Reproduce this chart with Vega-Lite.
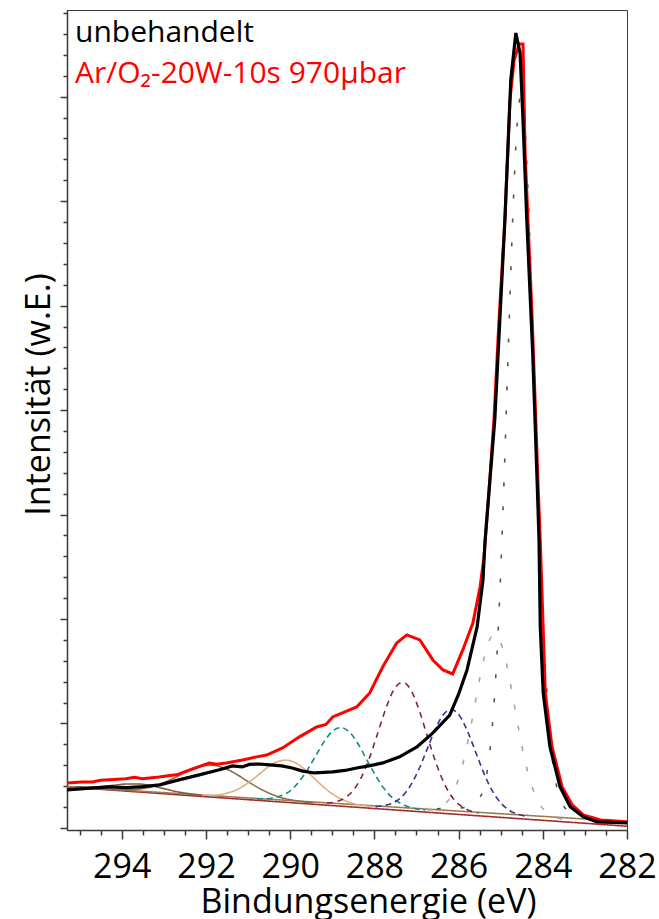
{
"$schema": "https://vega.github.io/schema/vega-lite/v6.json",
"width": 560, "height": 820,
"autosize": {"type": "none"},
"padding": {"left": 67, "top": 10, "right": 32, "bottom": 89},
"background": "white",
"config": {"font": "Open Sans", "view": {"stroke": "#3a3a3a", "strokeWidth": 1}},
"datasets": {
"spectra": [
{"E":295.3,"v":1.82,"s":"u"},{"E":294.9,"v":1.88,"s":"u"},{"E":294.3,"v":1.96,"s":"u"},{"E":293.9,"v":1.93,"s":"u"},{"E":293.5,"v":1.98,"s":"u"},{"E":293.1,"v":2.06,"s":"u"},{"E":292.64,"v":2.30,"s":"u"},{"E":292.16,"v":2.54,"s":"u"},{"E":291.68,"v":2.78,"s":"u"},{"E":291.37,"v":2.97,"s":"u"},{"E":291.14,"v":2.92,"s":"u"},{"E":290.97,"v":3.04,"s":"u"},{"E":290.73,"v":3.06,"s":"u"},{"E":290.49,"v":3.02,"s":"u"},{"E":290.2,"v":2.97,"s":"u"},{"E":289.95,"v":2.87,"s":"u"},{"E":289.7,"v":2.72,"s":"u"},{"E":289.42,"v":2.63,"s":"u"},{"E":289.2,"v":2.66,"s":"u"},{"E":288.99,"v":2.68,"s":"u"},{"E":288.7,"v":2.75,"s":"u"},{"E":288.42,"v":2.87,"s":"u"},{"E":288.1,"v":2.98,"s":"u"},{"E":287.8,"v":3.11,"s":"u"},{"E":287.4,"v":3.40,"s":"u"},{"E":286.99,"v":3.88,"s":"u"},{"E":286.61,"v":4.55,"s":"u"},{"E":286.21,"v":5.4,"s":"u"},{"E":286.0,"v":6.4,"s":"u"},{"E":285.8,"v":7.56,"s":"u"},{"E":285.56,"v":9.62,"s":"u"},{"E":285.42,"v":11.87,"s":"u"},{"E":285.37,"v":13.78,"s":"u"},{"E":285.14,"v":19.53,"s":"u"},{"E":285.02,"v":24.31,"s":"u"},{"E":284.9,"v":29.1,"s":"u"},{"E":284.8,"v":33.89,"s":"u"},{"E":284.76,"v":35.8,"s":"u"},{"E":284.64,"v":38.05,"s":"u"},{"E":284.54,"v":37.09,"s":"u"},{"E":284.47,"v":33.89,"s":"u"},{"E":284.38,"v":29.1,"s":"u"},{"E":284.24,"v":22.73,"s":"u"},{"E":284.13,"v":16.32,"s":"u"},{"E":284.09,"v":13.78,"s":"u"},{"E":284.06,"v":9.62,"s":"u"},{"E":283.99,"v":6.46,"s":"u"},{"E":283.83,"v":3.88,"s":"u"},{"E":283.59,"v":1.96,"s":"u"},{"E":283.35,"v":1.01,"s":"u"},{"E":283.04,"v":0.53,"s":"u"},{"E":282.71,"v":0.29,"s":"u"},{"E":282.0,"v":0.24,"s":"u"},
{"E":295.3,"v":2.15,"s":"a"},{"E":294.95,"v":2.2,"s":"a"},{"E":294.7,"v":2.2,"s":"a"},{"E":294.5,"v":2.28,"s":"a"},{"E":294.3,"v":2.3,"s":"a"},{"E":293.9,"v":2.35,"s":"a"},{"E":293.7,"v":2.42,"s":"a"},{"E":293.51,"v":2.35,"s":"a"},{"E":293.11,"v":2.44,"s":"a"},{"E":292.9,"v":2.5,"s":"a"},{"E":292.7,"v":2.54,"s":"a"},{"E":292.32,"v":2.82,"s":"a"},{"E":291.92,"v":3.11,"s":"a"},{"E":291.75,"v":3.05,"s":"a"},{"E":291.52,"v":3.11,"s":"a"},{"E":291.13,"v":3.25,"s":"a"},{"E":290.8,"v":3.4,"s":"a"},{"E":290.56,"v":3.49,"s":"a"},{"E":290.18,"v":3.83,"s":"a"},{"E":289.78,"v":4.36,"s":"a"},{"E":289.37,"v":4.83,"s":"a"},{"E":289.15,"v":4.95,"s":"a"},{"E":288.99,"v":5.31,"s":"a"},{"E":288.7,"v":5.55,"s":"a"},{"E":288.42,"v":5.79,"s":"a"},{"E":288.11,"v":6.46,"s":"a"},{"E":287.8,"v":7.71,"s":"a"},{"E":287.47,"v":8.85,"s":"a"},{"E":287.23,"v":9.24,"s":"a"},{"E":286.92,"v":9.0,"s":"a"},{"E":286.61,"v":8.04,"s":"a"},{"E":286.37,"v":7.56,"s":"a"},{"E":286.14,"v":7.37,"s":"a"},{"E":285.9,"v":8.52,"s":"a"},{"E":285.66,"v":9.81,"s":"a"},{"E":285.49,"v":11.53,"s":"a"},{"E":285.4,"v":12.9,"s":"a"},{"E":285.3,"v":15.5,"s":"a"},{"E":285.16,"v":19.53,"s":"a"},{"E":285.04,"v":24.31,"s":"a"},{"E":284.9,"v":29.1,"s":"a"},{"E":284.78,"v":34.84,"s":"a"},{"E":284.68,"v":36.76,"s":"a"},{"E":284.56,"v":37.52,"s":"a"},{"E":284.47,"v":37.52,"s":"a"},{"E":284.42,"v":32.31,"s":"a"},{"E":284.25,"v":24.31,"s":"a"},{"E":284.11,"v":16.32,"s":"a"},{"E":284.06,"v":13.78,"s":"a"},{"E":283.94,"v":6.46,"s":"a"},{"E":283.78,"v":3.88,"s":"a"},{"E":283.54,"v":1.96,"s":"a"},{"E":283.3,"v":1.1,"s":"a"},{"E":283.04,"v":0.62,"s":"a"},{"E":282.63,"v":0.38,"s":"a"},{"E":282.0,"v":0.29,"s":"a"}
],
"comps": [
{"E":282.0,"v":0.08,"c":"bgA"},{"E":295.3,"v":1.96,"c":"bgA"},
{"E":282.0,"v":0.30,"c":"bgB"},{"E":295.3,"v":1.98,"c":"bgB"},
{"E":292.1,"v":1.57,"c":"C8"},{"E":292.4,"v":1.64,"c":"C8"},{"E":292.7,"v":1.74,"c":"C8"},{"E":293.0,"v":1.88,"c":"C8"},{"E":293.3,"v":2.02,"c":"C8"},{"E":293.6,"v":2.10,"c":"C8"},{"E":293.9,"v":2.10,"c":"C8"},{"E":294.2,"v":2.04,"c":"C8"},{"E":294.5,"v":1.98,"c":"C8"},{"E":294.8,"v":1.96,"c":"C8"},{"E":295.1,"v":1.97,"c":"C8"},
{"E":289.45,"v":1.20,"c":"C7"},{"E":289.85,"v":1.30,"c":"C7"},{"E":290.05,"v":1.37,"c":"C7"},{"E":290.25,"v":1.47,"c":"C7"},{"E":290.45,"v":1.62,"c":"C7"},{"E":290.65,"v":1.81,"c":"C7"},{"E":290.85,"v":2.03,"c":"C7"},{"E":291.05,"v":2.28,"c":"C7"},{"E":291.25,"v":2.54,"c":"C7"},{"E":291.45,"v":2.76,"c":"C7"},{"E":291.65,"v":2.92,"c":"C7"},{"E":291.85,"v":3.00,"c":"C7"},{"E":292.05,"v":2.97,"c":"C7"},{"E":292.25,"v":2.87,"c":"C7"},{"E":292.45,"v":2.70,"c":"C7"},{"E":292.65,"v":2.49,"c":"C7"},{"E":292.85,"v":2.30,"c":"C7"},{"E":293.05,"v":2.13,"c":"C7"},{"E":293.25,"v":1.99,"c":"C7"},{"E":293.45,"v":1.90,"c":"C7"},{"E":293.65,"v":1.85,"c":"C7"},{"E":293.85,"v":1.83,"c":"C7"},{"E":294.25,"v":1.84,"c":"C7"},
{"E":288.09,"v":1.03,"c":"C6"},{"E":288.29,"v":1.08,"c":"C6"},{"E":288.49,"v":1.16,"c":"C6"},{"E":288.69,"v":1.30,"c":"C6"},{"E":288.89,"v":1.49,"c":"C6"},{"E":289.09,"v":1.76,"c":"C6"},{"E":289.29,"v":2.11,"c":"C6"},{"E":289.49,"v":2.49,"c":"C6"},{"E":289.69,"v":2.86,"c":"C6"},{"E":289.89,"v":3.13,"c":"C6"},{"E":290.09,"v":3.24,"c":"C6"},{"E":290.29,"v":3.18,"c":"C6"},{"E":290.49,"v":2.97,"c":"C6"},{"E":290.69,"v":2.65,"c":"C6"},{"E":290.89,"v":2.32,"c":"C6"},{"E":291.09,"v":2.03,"c":"C6"},{"E":291.29,"v":1.81,"c":"C6"},{"E":291.49,"v":1.67,"c":"C6"},{"E":291.69,"v":1.59,"c":"C6"},{"E":291.89,"v":1.56,"c":"C6"},{"E":292.09,"v":1.56,"c":"C6"},
{"E":286.79,"v":0.86,"c":"C5"},{"E":286.99,"v":0.91,"c":"C5"},{"E":287.19,"v":1.01,"c":"C5"},{"E":287.39,"v":1.19,"c":"C5"},{"E":287.59,"v":1.47,"c":"C5"},{"E":287.79,"v":1.94,"c":"C5"},{"E":287.99,"v":2.57,"c":"C5"},{"E":288.19,"v":3.30,"c":"C5"},{"E":288.39,"v":4.03,"c":"C5"},{"E":288.59,"v":4.59,"c":"C5"},{"E":288.79,"v":4.80,"c":"C5"},{"E":288.99,"v":4.64,"c":"C5"},{"E":289.19,"v":4.14,"c":"C5"},{"E":289.39,"v":3.46,"c":"C5"},{"E":289.59,"v":2.78,"c":"C5"},{"E":289.79,"v":2.21,"c":"C5"},{"E":289.99,"v":1.79,"c":"C5"},{"E":290.19,"v":1.56,"c":"C5"},{"E":290.39,"v":1.44,"c":"C5"},{"E":290.59,"v":1.39,"c":"C5"},{"E":290.79,"v":1.39,"c":"C5"},
{"E":285.53,"v":0.71,"c":"C4"},{"E":285.73,"v":0.82,"c":"C4"},{"E":285.93,"v":1.03,"c":"C4"},{"E":286.13,"v":1.41,"c":"C4"},{"E":286.33,"v":2.08,"c":"C4"},{"E":286.53,"v":3.07,"c":"C4"},{"E":286.73,"v":4.31,"c":"C4"},{"E":286.93,"v":5.60,"c":"C4"},{"E":287.13,"v":6.59,"c":"C4"},{"E":287.33,"v":6.97,"c":"C4"},{"E":287.53,"v":6.64,"c":"C4"},{"E":287.73,"v":5.70,"c":"C4"},{"E":287.93,"v":4.47,"c":"C4"},{"E":288.13,"v":3.28,"c":"C4"},{"E":288.33,"v":2.34,"c":"C4"},{"E":288.53,"v":1.73,"c":"C4"},{"E":288.73,"v":1.40,"c":"C4"},{"E":288.93,"v":1.24,"c":"C4"},{"E":289.13,"v":1.19,"c":"C4"},
{"E":284.37,"v":0.55,"c":"C3"},{"E":284.57,"v":0.64,"c":"C3"},{"E":284.77,"v":0.81,"c":"C3"},{"E":284.97,"v":1.14,"c":"C3"},{"E":285.17,"v":1.67,"c":"C3"},{"E":285.37,"v":2.48,"c":"C3"},{"E":285.57,"v":3.50,"c":"C3"},{"E":285.77,"v":4.54,"c":"C3"},{"E":285.97,"v":5.35,"c":"C3"},{"E":286.17,"v":5.67,"c":"C3"},{"E":286.37,"v":5.40,"c":"C3"},{"E":286.57,"v":4.65,"c":"C3"},{"E":286.77,"v":3.65,"c":"C3"},{"E":286.97,"v":2.69,"c":"C3"},{"E":287.17,"v":1.94,"c":"C3"},{"E":287.37,"v":1.45,"c":"C3"},{"E":287.57,"v":1.18,"c":"C3"},{"E":287.77,"v":1.07,"c":"C3"},{"E":287.97,"v":1.02,"c":"C3"},
{"E":283.54,"v":0.43,"c":"C2"},{"E":283.74,"v":0.53,"c":"C2"},{"E":283.94,"v":0.79,"c":"C2"},{"E":284.14,"v":1.38,"c":"C2"},{"E":284.34,"v":2.54,"c":"C2"},{"E":284.44,"v":3.38,"c":"C2"},{"E":284.54,"v":4.37,"c":"C2"},{"E":284.64,"v":5.47,"c":"C2"},{"E":284.74,"v":6.59,"c":"C2"},{"E":284.84,"v":7.64,"c":"C2"},{"E":284.94,"v":8.50,"c":"C2"},{"E":285.04,"v":9.07,"c":"C2"},{"E":285.14,"v":9.28,"c":"C2"},{"E":285.24,"v":9.10,"c":"C2"},{"E":285.34,"v":8.55,"c":"C2"},{"E":285.44,"v":7.72,"c":"C2"},{"E":285.54,"v":6.70,"c":"C2"},{"E":285.64,"v":5.60,"c":"C2"},{"E":285.74,"v":4.53,"c":"C2"},{"E":285.84,"v":3.57,"c":"C2"},{"E":285.94,"v":2.75,"c":"C2"},{"E":286.14,"v":1.65,"c":"C2"},{"E":286.34,"v":1.11,"c":"C2"},{"E":286.54,"v":0.90,"c":"C2"},{"E":286.74,"v":0.86,"c":"C2"},
{"E":282.52,"v":0.39,"c":"C1"},{"E":282.92,"v":0.50,"c":"C1"},{"E":283.12,"v":0.59,"c":"C1"},{"E":283.32,"v":0.73,"c":"C1"},{"E":283.52,"v":1.09,"c":"C1"},{"E":283.62,"v":1.58,"c":"C1"},{"E":283.72,"v":2.51,"c":"C1"},{"E":283.82,"v":4.19,"c":"C1"},{"E":283.92,"v":6.98,"c":"C1"},{"E":284.02,"v":11.10,"c":"C1"},{"E":284.12,"v":16.53,"c":"C1"},{"E":284.22,"v":22.80,"c":"C1"},{"E":284.32,"v":28.81,"c":"C1"},{"E":284.42,"v":33.32,"c":"C1"},{"E":284.52,"v":35.04,"c":"C1"},{"E":284.62,"v":33.35,"c":"C1"},{"E":284.72,"v":28.86,"c":"C1"},{"E":284.82,"v":22.88,"c":"C1"},{"E":284.92,"v":16.64,"c":"C1"},{"E":285.02,"v":11.23,"c":"C1"},{"E":285.12,"v":7.13,"c":"C1"},{"E":285.22,"v":4.38,"c":"C1"},{"E":285.32,"v":2.72,"c":"C1"},{"E":285.42,"v":1.81,"c":"C1"},{"E":285.52,"v":1.36,"c":"C1"},{"E":285.72,"v":1.04,"c":"C1"},{"E":285.92,"v":0.96,"c":"C1"},{"E":286.12,"v":0.93,"c":"C1"},{"E":286.52,"v":0.92,"c":"C1"}
]
},
"encoding": {
  "x": {"field": "E", "type": "quantitative",
    "scale": {"domain": [282, 295.3], "reverse": true, "nice": false, "zero": false},
    "axis": {"title": "Bindungsenergie (eV)",
      "values": [282,282.5,283,283.5,284,284.5,285,285.5,286,286.5,287,287.5,288,288.5,289,289.5,290,290.5,291,291.5,292,292.5,293,293.5,294,294.5,295],
      "labelExpr": "datum.value % 2 === 0 ? format(datum.value, 'd') : ''",
      "labelFont": "Open Sans", "labelFontSize": 34, "labelColor": "#000000", "labelBaseline": "alphabetic", "labelPadding": 38, "labelFlush": false, "labelOverlap": false,
      "tickSize": {"condition": {"test": "datum.value % 2 === 0", "value": 9}, "value": 5},
      "tickColor": "#3a3a3a", "tickWidth": 1.5, "domainColor": "#3a3a3a", "domainWidth": 1.5, "grid": false,
      "titleFont": "Open Sans", "titleFontSize": 34, "titleFontWeight": "normal", "titleColor": "#000000",
      "titleX": 301, "titleY": 82, "titleAlign": "center", "titleBaseline": "alphabetic"}},
  "y": {"field": "v", "type": "quantitative",
    "scale": {"domain": [-0.1, 39.15], "nice": false, "zero": false},
    "axis": {"title": "Intensität (w.E.)",
      "values": [0,1,2,3,4,5,6,7,8,9,10,11,12,13,14,15,16,17,18,19,20,21,22,23,24,25,26,27,28,29,30,31,32,33,34,35,36,37,38,39],
      "labels": false,
      "tickSize": {"condition": {"test": "datum.value % 5 === 0", "value": 7}, "value": 4},
      "tickColor": "#3a3a3a", "tickWidth": 1.5, "domainColor": "#3a3a3a", "domainWidth": 1.5, "grid": false,
      "titleFont": "Open Sans", "titleFontSize": 34, "titleFontWeight": "normal", "titleColor": "#000000",
      "titleAngle": -90, "titleX": -18, "titleY": 384, "titleAlign": "center", "titleBaseline": "alphabetic"}}
},
"layer": [
  {"data": {"name": "comps"},
   "mark": {"type": "line", "interpolate": "monotone", "strokeWidth": 1.6},
   "encoding": {
     "color": {"field": "c", "type": "nominal", "legend": null,
       "scale": {"domain": ["bgA","bgB","C8","C7","C6","C5","C4","C3","C2","C1"],
                 "range": ["#a32b2b","#9b7b50","#7d5c3c","#8c6a44","#dcae80","#178a88","#8e2232","#35359a","#a6a6a6","#555555"]}},
     "strokeDash": {"field": "c", "type": "nominal", "legend": null,
       "scale": {"domain": ["bgA","bgB","C8","C7","C6","C5","C4","C3","C2","C1"],
                 "range": [[1,0],[1,0],[1,0],[1,0],[1,0],[6,4],[6,5],[6,4],[5,16],[4,20]]}}
   }},
  {"data": {"name": "spectra"},
   "transform": [{"filter": "datum.s === 'a'"}],
   "mark": {"type": "line", "strokeWidth": 3},
   "encoding": {
     "color": {"field": "s", "type": "nominal",
       "scale": {"domain": ["u", "a"], "range": ["#000000", "#ff0000"]},
       "legend": {"title": null, "orient": "top-left", "offset": 8, "padding": 0,
         "labelExpr": "datum.value === 'u' ? 'unbehandelt' : 'Ar/O₂-20W-10s 970µbar'",
         "labelFont": "Open Sans", "labelFontSize": 30, "labelLimit": 600,
         "labelColor": {"expr": "datum.value === 'u' ? '#000000' : '#ff0000'"},
         "symbolSize": 0, "symbolOpacity": 0, "symbolStrokeWidth": 0, "labelOffset": -30, "rowPadding": 11}}
   }},
  {"data": {"name": "spectra"},
   "transform": [{"filter": "datum.s === 'u'"}],
   "mark": {"type": "line", "strokeWidth": 3.2},
   "encoding": {
     "color": {"field": "s", "type": "nominal",
       "scale": {"domain": ["u", "a"], "range": ["#000000", "#ff0000"]},
       "legend": null}
   }}
],
"resolve": {"scale": {"color": "independent", "strokeDash": "independent"}}
}
